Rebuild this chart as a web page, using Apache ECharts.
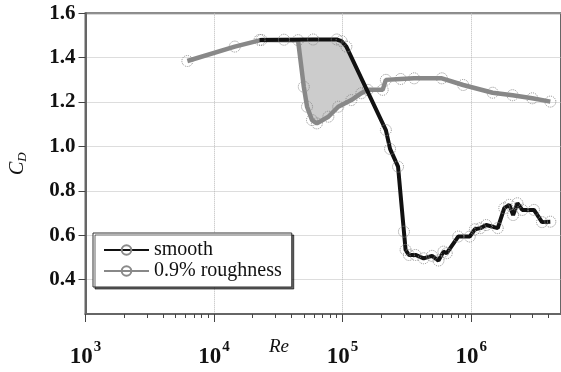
<!DOCTYPE html>
<html>
<head>
<meta charset="utf-8">
<script src="https://cdn.jsdelivr.net/npm/echarts@6/dist/echarts.min.js"></script>
<style>
html, body { margin: 0; padding: 0; background: #fff; }
#chart { width: 561px; height: 372px; }
</style>
</head>
<body>
<div id="chart"></div>
<script>
// drag coefficient vs Reynolds number
var smoothData = [
  [2.26e4, 1.480], [3.5e4, 1.481], [5.9e4, 1.482], [9.0e4, 1.482], [9.8e4, 1.475],
  [1.07e5, 1.450], [2.17e5, 1.074], [2.34e5, 0.989], [2.70e5, 0.909], [3.00e5, 0.616],
  [3.09e5, 0.534], [3.28e5, 0.511], [3.69e5, 0.511], [4.27e5, 0.496], [4.96e5, 0.507],
  [5.57e5, 0.486], [6.09e5, 0.526], [6.46e5, 0.519], [7.93e5, 0.594], [9.75e5, 0.594],
  [1.07e6, 0.627], [1.18e6, 0.632], [1.31e6, 0.646], [1.61e6, 0.632], [1.81e6, 0.722],
  [1.98e6, 0.737], [2.12e6, 0.691], [2.29e6, 0.744], [2.50e6, 0.714], [3.08e6, 0.714],
  [3.56e6, 0.659], [4.13e6, 0.661]
];
var roughData = [
  [6.2e3, 1.385], [1.45e4, 1.450], [2.34e4, 1.480], [4.5e4, 1.479], [4.99e4, 1.269],
  [5.29e4, 1.179], [5.78e4, 1.119], [6.31e4, 1.104], [7.75e4, 1.134], [9.25e4, 1.179],
  [1.17e5, 1.209], [1.40e5, 1.240], [1.57e5, 1.255], [2.05e5, 1.255], [2.17e5, 1.300],
  [2.83e5, 1.304], [3.6e5, 1.307], [5.92e5, 1.307], [8.67e5, 1.277], [1.47e6, 1.242],
  [2.10e6, 1.231], [2.99e6, 1.217], [4.13e6, 1.202]
];
var xMajorTicks = [1e3, 1e4, 1e5, 1e6];
var xMinorTicks = [
  2e3, 3e3, 4e3, 5e3, 6e3, 7e3, 8e3, 9e3,
  2e4, 3e4, 4e4, 5e4, 6e4, 7e4, 8e4, 9e4,
  2e5, 3e5, 4e5, 5e5, 6e5, 7e5, 8e5, 9e5,
  2e6, 3e6, 4e6
];
var yTicks = [0.4, 0.6, 0.8, 1.0, 1.2, 1.4, 1.6];
// region between the two curves where roughness drops first
var shadeFrom = 4.5e4, shadeTo = 1.57e5;

var shadePoly = roughData.filter(function (p) { return p[0] >= shadeFrom && p[0] <= shadeTo; })
  .concat(smoothData.filter(function (p) { return p[0] > shadeFrom && p[0] < shadeTo; }).reverse());

var chart = echarts.init(document.getElementById('chart'));

var markerStyle = {
  color: 'rgba(0,0,0,0)',
  borderColor: '#8a8a8a',
  borderWidth: 1,
  borderType: 'dotted'
};
var serif = 'Liberation Serif';

chart.setOption({
  animation: false,
  grid: {
    left: 80.5, top: 13.3, width: 482, height: 300.7,
    show: true, borderColor: '#666', borderWidth: 2, backgroundColor: 'transparent'
  },
  legend: {
    orient: 'vertical',
    left: 93, top: 233,
    width: 198,
    padding: [7, 10, 6, 10],
    itemGap: 1,
    itemWidth: 45,
    itemHeight: 12,
    backgroundColor: '#fff',
    borderColor: '#333',
    borderWidth: 1,
    shadowColor: 'rgba(0,0,0,0.6)',
    shadowOffsetX: 2,
    shadowOffsetY: 2,
    shadowBlur: 0,
    textStyle: { fontFamily: serif, fontSize: 20, color: '#111' },
    data: ['smooth', '0.9% roughness']
  },
  xAxis: [{
    type: 'log',
    min: 1e3, max: 5e6,
    position: 'bottom',
    axisLine: { show: true, lineStyle: { color: '#666', width: 2 } },
    axisTick: { show: true, length: 8, customValues: xMajorTicks, lineStyle: { color: '#444' } },
    axisLabel: {
      customValues: xMajorTicks,
      margin: 26,
      formatter: function (v) {
        return '{b|10}{sup|' + Math.round(Math.log10(v)) + '}';
      },
      rich: {
        b: { fontFamily: serif, fontWeight: 'bold', fontSize: 23, color: '#111' },
        sup: { fontFamily: serif, fontWeight: 'bold', fontSize: 15, color: '#111', padding: [0, 0, 20, 1] }
      }
    },
    splitLine: { show: true, lineStyle: { color: '#bbb', type: 'dotted', width: 1 } }
  }, {
    type: 'log',
    min: 1e3, max: 5e6,
    position: 'bottom',
    axisLine: { show: false },
    axisTick: { show: true, length: 4, customValues: xMinorTicks, lineStyle: { color: '#444' } },
    axisLabel: { show: false },
    splitLine: { show: false }
  }],
  yAxis: {
    type: 'value',
    min: 0.245, max: 1.6,
    name: '{c|C}{d|D}',
    nameLocation: 'middle',
    nameGap: 56,
    nameRotate: 90,
    nameTextStyle: {
      rich: {
        c: { fontFamily: serif, fontStyle: 'italic', fontSize: 20, color: '#111' },
        d: { fontFamily: serif, fontStyle: 'italic', fontSize: 13, color: '#111', padding: [10, 0, 0, 0] }
      }
    },
    axisLine: { show: true, lineStyle: { color: '#666', width: 2 } },
    axisTick: { show: true, length: 7, customValues: yTicks, lineStyle: { color: '#444' } },
    axisLabel: {
      customValues: yTicks,
      margin: 10,
      fontFamily: serif, fontWeight: 'bold', fontSize: 21, color: '#111',
      formatter: function (v) { return v.toFixed(1); }
    },
    splitLine: { show: true, lineStyle: { color: '#bbb', type: 'dotted', width: 1 } }
  },
  graphic: [{
    type: 'text',
    left: 269, top: 337,
    style: { text: 'Re', fontFamily: serif, fontStyle: 'italic', fontSize: 19, fill: '#111' }
  }],
  series: [{
    type: 'custom',
    silent: true,
    z: 1,
    data: [shadePoly[0]],
    renderItem: function (params, api) {
      return {
        type: 'polygon',
        shape: { points: shadePoly.map(function (p) { return api.coord(p); }) },
        style: { fill: '#cccccc', stroke: 'none' }
      };
    }
  }, {
    name: '0.9% roughness',
    type: 'line',
    z: 2,
    data: roughData,
    symbol: 'circle',
    symbolSize: 11,
    lineStyle: { color: '#888', width: 4.5 },
    itemStyle: markerStyle
  }, {
    name: 'smooth',
    type: 'line',
    z: 3,
    data: smoothData,
    symbol: 'circle',
    symbolSize: 11,
    lineStyle: { color: '#111', width: 4 },
    itemStyle: markerStyle
  }]
});
</script>
</body>
</html>
